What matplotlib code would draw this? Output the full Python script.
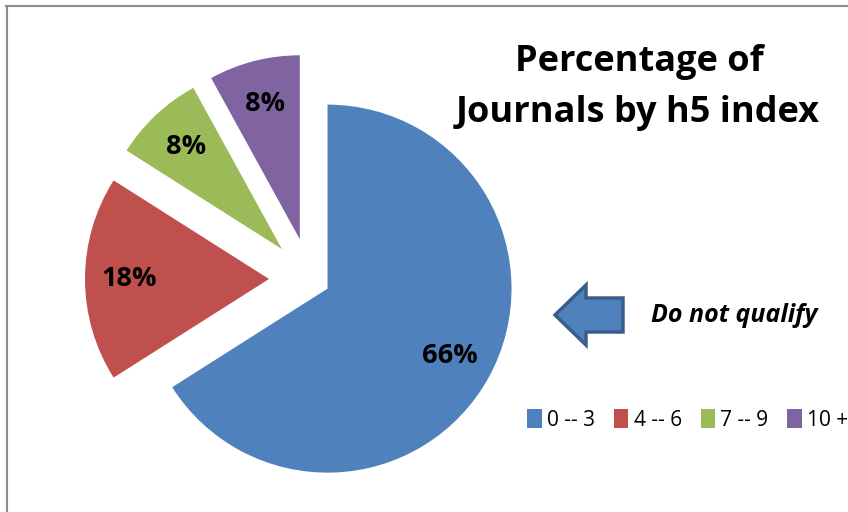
import matplotlib.pyplot as plt
from matplotlib.patches import FancyArrow
from matplotlib.lines import Line2D

# data
labels = ["0 -- 3", "4 -- 6", "7 -- 9", "10 +"]
shares = [66, 18, 8, 8]
colors = ["#4F81BD", "#C0504D", "#9BBB59", "#8064A2"]
explode_px = [20, 41, 41, 41]

plt.rcParams['font.family'] = ['Open Sans', 'DejaVu Sans']

W, H = 848, 512
fig = plt.figure(figsize=(W / 100, H / 100), dpi=100)
ax = fig.add_axes([0, 0, 1, 1])

# pie drawn in pixel space (y up); explode is in data units here
wedges, texts, pcts = ax.pie(shares, colors=colors, explode=explode_px,
                             startangle=90, counterclock=False,
                             center=(310, H - 279), radius=184,
                             autopct='%1.0f%%', pctdistance=0.76,
                             textprops=dict(fontsize=19.5, fontweight='bold', color='black'),
                             wedgeprops=dict(linewidth=0))
ax.set_xlim(0, W)
ax.set_ylim(0, H)
ax.set_aspect('equal')
ax.axis('off')

ax.text(639, H - 62, "Percentage of", ha='center', va='center', fontsize=26, fontweight='bold')
ax.text(638, H - 113, "Journals by h5 index", ha='center', va='center', fontsize=26, fontweight='bold')

# arrow pointing at the pie
arr = FancyArrow(623, H - 315, -68, 0, width=34, head_width=60, head_length=31,
                 length_includes_head=True, facecolor="#4F81BD", edgecolor="#385D8A",
                 linewidth=2.5)
ax.add_patch(arr)
ax.text(651, H - 316, "Do not qualify", ha='left', va='center', fontsize=18,
        fontweight='bold', style='italic')

leg = ax.legend(wedges, labels, loc='center left', bbox_to_anchor=(519 / W, 1 - 420 / H),
                ncol=4, frameon=False, fontsize=15, handlelength=0.7, handleheight=1.0,
                handletextpad=0.25, columnspacing=0.9, borderaxespad=0)

# chart area border (top and left edges visible)
fig.add_artist(Line2D([6 / W, 1], [1 - 5.5 / H, 1 - 5.5 / H], color="#8C8C8C", linewidth=1.5))
fig.add_artist(Line2D([6.5 / W, 6.5 / W], [0, 1 - 5.5 / H], color="#8C8C8C", linewidth=1.5))

fig.savefig("out.png", dpi=100, facecolor='white')
